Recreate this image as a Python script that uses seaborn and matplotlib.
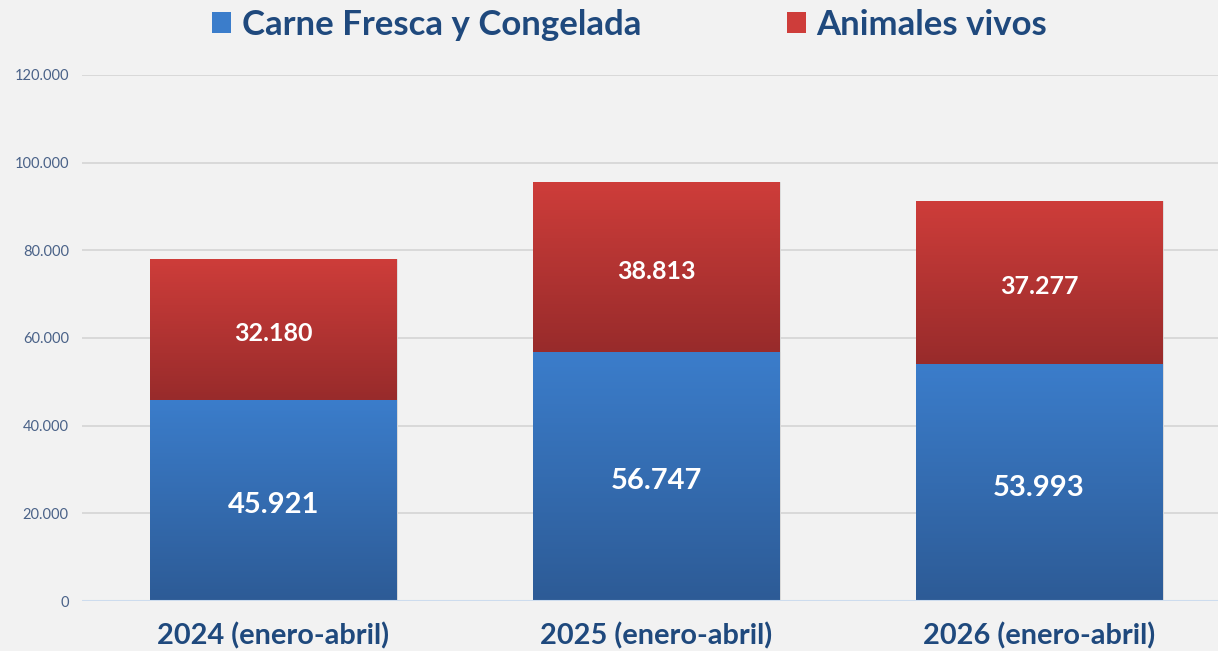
import numpy as np
import pandas as pd
import matplotlib
matplotlib.use("Agg")
import matplotlib.pyplot as plt
import seaborn as sns
from matplotlib.colors import LinearSegmentedColormap
from matplotlib.patches import Patch
from matplotlib.ticker import FuncFormatter

categories = ["2024 (enero-abril)", "2025 (enero-abril)", "2026 (enero-abril)"]
carne = [45921, 56747, 53993]
animales = [32180, 38813, 37277]
series_names = ["Carne Fresca y Congelada", "Animales vivos"]

BG = "#f2f2f2"
TXT = "#1f497d"
BLUE_TOP, BLUE_BOT = "#3b7dcb", "#2d5b96"
RED_TOP, RED_BOT = "#ce3d3a", "#982b2b"

df = pd.DataFrame({"periodo": categories, "carne": carne, "animales": animales})
df["total"] = df["carne"] + df["animales"]

sns.set_theme(style="white")
plt.rcParams["font.family"] = ["Lato", "DejaVu Sans"]

fig = plt.figure(figsize=(12.18, 6.51), dpi=100, facecolor=BG)
ax = fig.add_axes([0.0673, 0.0768, 0.943, 0.808], facecolor=BG)

bar_w = 0.645
sns.barplot(data=df, x="periodo", y="total", color=RED_TOP, width=bar_w, ax=ax, zorder=2)
sns.barplot(data=df, x="periodo", y="carne", color=BLUE_TOP, width=bar_w, ax=ax, zorder=3)

red_bars = ax.containers[0]
blue_bars = ax.containers[1]


def paint(patch, y0, y1, top, bottom, z):
    cmap = LinearSegmentedColormap.from_list("g", [bottom, top])
    grad = np.linspace(0, 1, 256).reshape(-1, 1)
    x0 = patch.get_x()
    w = patch.get_width()
    im = ax.imshow(grad, cmap=cmap, origin="lower", aspect="auto",
                   extent=[x0, x0 + w, y0, y1], zorder=z)
    im.set_clip_path(patch)
    patch.set_facecolor("none")
    patch.set_edgecolor("#d8d8d8")
    patch.set_linewidth(0.6)


for i, p in enumerate(red_bars):
    paint(p, df["carne"][i], df["total"][i], RED_TOP, RED_BOT, 2)
for i, p in enumerate(blue_bars):
    paint(p, 0, df["carne"][i], BLUE_TOP, BLUE_BOT, 3)

ax.set_xlim(-0.5, 2.5)
ax.set_ylim(0, 120000)
ax.set_yticks(np.arange(0, 120001, 20000))
ax.yaxis.set_major_formatter(FuncFormatter(lambda v, _: f"{int(v):,}".replace(",", ".")))
ax.grid(axis="y", color="#d9d9d9", lw=1.4, zorder=0)
ax.set_axisbelow(True)
for s in ax.spines.values():
    s.set_visible(False)
ax.axhline(0, color="#cddcee", lw=1.5, zorder=4)

ax.tick_params(axis="y", length=0, pad=9.5, labelsize=10.5, labelcolor="#4a6288")
ax.tick_params(axis="x", length=0, pad=15, labelsize=20.8, labelcolor=TXT)
for t in ax.get_xticklabels():
    t.set_fontweight("bold")
ax.set_xlabel("")
ax.set_ylabel("")

fmt = lambda v: f"{v:,}".replace(",", ".")
for i in range(len(categories)):
    ax.annotate(fmt(df["carne"][i]), (i, df["carne"][i] / 2), xytext=(0, -3.5),
                textcoords="offset points", ha="center", va="center",
                color="white", fontsize=21, fontweight="bold", zorder=6)
    ax.annotate(fmt(df["animales"][i]), (i, df["carne"][i] + df["animales"][i] / 2),
                xytext=(0, -3), textcoords="offset points", ha="center", va="center",
                color="white", fontsize=18, fontweight="bold", zorder=6)

handles = [Patch(facecolor=BLUE_TOP, edgecolor="none"), Patch(facecolor=RED_TOP, edgecolor="none")]
fig.legend(handles, series_names, loc="center", bbox_to_anchor=(0.517, 0.962), ncol=2,
           frameon=False, handlelength=0.55, handleheight=0.55, handletextpad=0.3,
           columnspacing=4.2, prop={"size": 25, "weight": "bold"}, labelcolor=TXT)

fig.savefig("out.png", dpi=100, facecolor=BG)
